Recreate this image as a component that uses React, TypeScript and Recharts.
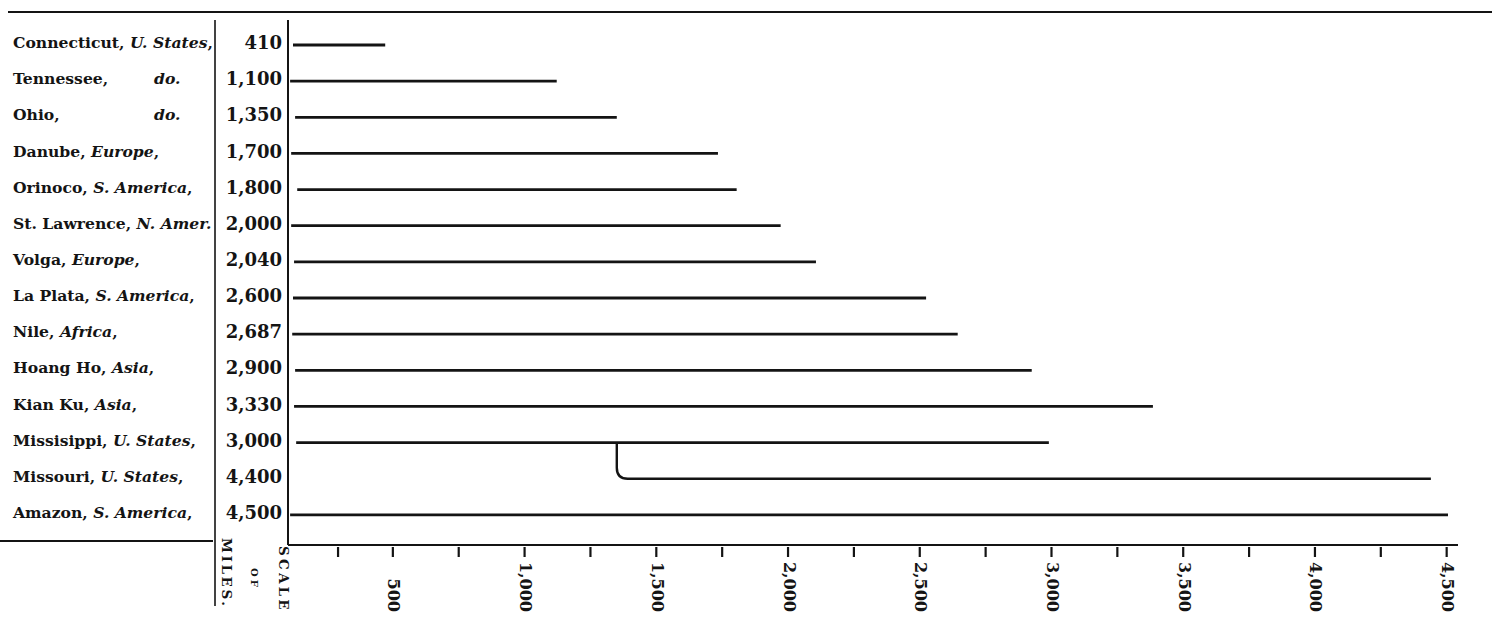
import React from "react";
import { BarChart, Bar, XAxis, YAxis } from "recharts";

// rivers, top to bottom
const NAMES = [
  "Connecticut", "Tennessee", "Ohio", "Danube", "Orinoco", "St. Lawrence", "Volga",
  "La Plata", "Nile", "Hoang Ho", "Kian Ku", "Missisippi", "Missouri", "Amazon",
];
const REGIONS = [
  "U. States", "do.", "do.", "Europe", "S. America", "N. Amer.", "Europe",
  "S. America", "Africa", "Asia", "Asia", "U. States", "U. States", "S. America",
];
// printed lengths in miles
const MILES = [410, 1100, 1350, 1700, 1800, 2000, 2040, 2600, 2687, 2900, 3330, 3000, 4400, 4500];
// where each drawn line starts / ends on the scale of miles
const LINE_START = [121, 110, 129, 114, 137, 114, 125, 121, 118, 129, 125, 133, 1350, 110];
const LINE_END = [471, 1122, 1350, 1734, 1805, 1972, 2106, 2524, 2644, 2925, 3385, 2990, 4440, 4505];

const MAJOR_TICKS = [500, 1000, 1500, 2000, 2500, 3000, 3500, 4000, 4500];
const MINOR_TICKS = [292, 750, 1250, 1750, 2250, 2750, 3250, 3750, 4250];

const INK = "#141414";
const SERIF = "'DejaVu Serif', serif";

const data = NAMES.map((name, i) => ({
  name,
  region: REGIONS[i],
  miles: MILES[i],
  span: [LINE_START[i], LINE_END[i]],
  branch: name === "Missouri",
}));

const fmt = (n: number) => n.toLocaleString("en-US");

function RiverLabel(props: any) {
  const { y, payload } = props;
  const i = NAMES.indexOf(payload.value);
  const region = REGIONS[i];
  const ditto = region === "do.";
  const tail = region.endsWith(".") ? "" : ",";
  return (
    <g>
      {ditto ? (
        <text x={13} y={y + 3} fontFamily={SERIF} fontWeight="bold" fontSize={15.6} fill={INK}>
          {NAMES[i]},
          <tspan x={154} fontStyle="italic">do.</tspan>
        </text>
      ) : (
        <text x={13} y={y + 3} fontFamily={SERIF} fontWeight="bold" fontSize={15.6} fill={INK}>
          {NAMES[i]},{" "}
          <tspan fontStyle="italic">{region}</tspan>
          {tail}
        </text>
      )}
      <text x={282} y={y + 4} textAnchor="end" fontFamily={SERIF} fontWeight="bold" fontSize={18} fill={INK}>
        {fmt(MILES[i])}
      </text>
    </g>
  );
}

function ScaleTick(props: any) {
  const { x, y, payload } = props;
  const major = MAJOR_TICKS.includes(payload.value);
  return (
    <g>
      <line x1={x} x2={x} y1={y + 2} y2={y + 12} stroke={INK} strokeWidth={2.2} />
      {major && (
        <text
          transform={`translate(${x + 1}, 612) rotate(90)`}
          textAnchor="end"
          dominantBaseline="central"
          fontFamily={SERIF}
          fontWeight="bold"
          fontSize={16}
          fill={INK}
        >
          {fmt(payload.value)}
        </text>
      )}
    </g>
  );
}

function RiverLine(props: any) {
  const { x, y, width, height, payload } = props;
  const yc = y + height / 2;
  if (payload.branch) {
    // Missouri leaves the Missisippi line one row above
    const r = 11;
    const d = `M${x},${yc - height} L${x},${yc - r} Q${x},${yc} ${x + r},${yc} L${x + width},${yc}`;
    return <path d={d} fill="none" stroke={INK} strokeWidth={2.4} />;
  }
  return <line x1={x} x2={x + width} y1={yc} y2={yc} stroke={INK} strokeWidth={2.8} />;
}

export default function App() {
  return (
    <div style={{ position: "absolute", left: 0, top: 0, width: 1500, height: 622, background: "#fff" }}>
      <BarChart
        width={1500}
        height={622}
        data={data}
        layout="vertical"
        barCategoryGap={0}
        margin={{ top: 20, right: 42, bottom: 7, left: 0 }}
      >
        <XAxis
          type="number"
          domain={[102, 4543]}
          allowDataOverflow
          ticks={[...MINOR_TICKS, ...MAJOR_TICKS].sort((a, b) => a - b)}
          interval={0}
          height={70}
          tickSize={0}
          tickMargin={0}
          tickLine={false}
          axisLine={{ stroke: INK, strokeWidth: 2.2 }}
          tick={<ScaleTick />}
        />
        <YAxis
          type="category"
          dataKey="name"
          width={288}
          padding={{ top: 7, bottom: 12 }}
          tickLine={false}
          axisLine={{ stroke: INK, strokeWidth: 2 }}
          tick={<RiverLabel />}
          interval={0}
        />
        <Bar dataKey="span" shape={<RiverLine />} isAnimationActive={false} />
      </BarChart>
      <svg
        width={1500}
        height={622}
        style={{ position: "absolute", left: 0, top: 0, pointerEvents: "none" }}
      >
        <line x1={8} x2={1492} y1={12} y2={12} stroke={INK} strokeWidth={2.2} />
        <line x1={215} x2={215} y1={20} y2={606} stroke={INK} strokeWidth={1.6} />
        <line x1={0} x2={213} y1={541} y2={541} stroke={INK} strokeWidth={2.2} />
        <g fontFamily={SERIF} fontWeight="bold" fill={INK}>
          <text transform="translate(284, 546) rotate(90)" dominantBaseline="central" fontSize={13.5} letterSpacing={3.2}>
            SCALE
          </text>
          <text transform="translate(254, 568) rotate(90)" dominantBaseline="central" fontSize={10} letterSpacing={3}>
            OF
          </text>
          <text transform="translate(227, 538) rotate(90)" dominantBaseline="central" fontSize={13.5} letterSpacing={2.6}>
            MILES.
          </text>
        </g>
      </svg>
    </div>
  );
}
